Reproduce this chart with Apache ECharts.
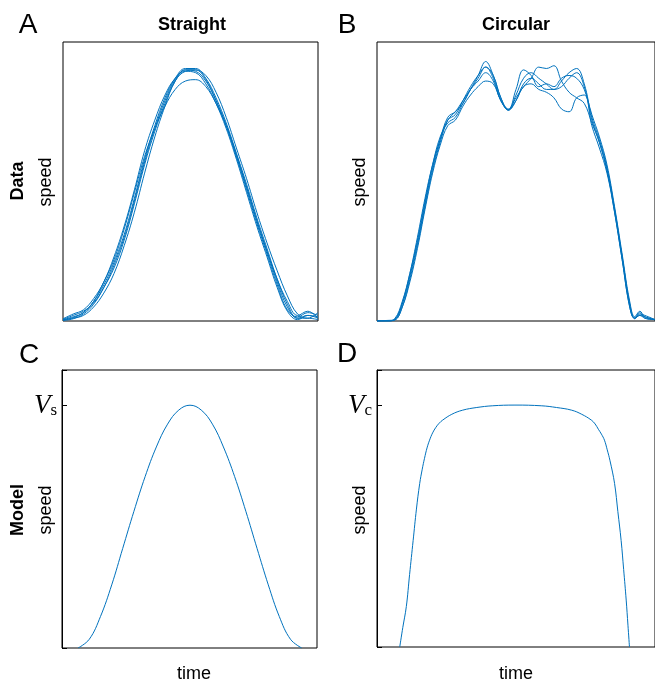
<!DOCTYPE html>
<html>
<head>
<meta charset="utf-8">
<script src="https://cdn.jsdelivr.net/npm/echarts@6/dist/echarts.min.js"></script>
<style>
  html, body { margin: 0; padding: 0; background: #fff; }
  #chart { width: 655px; height: 686px; }
</style>
</head>
<body>
<div id="chart"></div>
<script>
// time samples (arbitrary units) for the straight-line data
const straightTime = [0, 4, 8, 12, 16, 20, 24, 28, 32, 36, 40, 44, 48, 52, 56, 60, 64, 68, 72, 76, 80, 84, 88, 92, 96, 100];
const straightTrials = [
    [0.004, 0.012, 0.03, 0.07, 0.13, 0.21, 0.31, 0.44, 0.58, 0.70, 0.80, 0.87, 0.905, 0.905, 0.87, 0.80, 0.71, 0.60, 0.48, 0.36, 0.25, 0.14, 0.05, 0.01, 0.02, 0.01],
    [0.006, 0.02, 0.035, 0.065, 0.12, 0.19, 0.29, 0.42, 0.56, 0.68, 0.78, 0.86, 0.90, 0.90, 0.865, 0.79, 0.70, 0.59, 0.47, 0.35, 0.24, 0.13, 0.04, 0.015, 0.03, 0.02],
    [0.005, 0.015, 0.03, 0.07, 0.14, 0.22, 0.33, 0.46, 0.59, 0.69, 0.77, 0.83, 0.86, 0.865, 0.84, 0.78, 0.70, 0.60, 0.49, 0.37, 0.26, 0.15, 0.06, 0.01, 0.01, 0.005],
    [0.003, 0.01, 0.02, 0.05, 0.10, 0.17, 0.27, 0.39, 0.53, 0.66, 0.77, 0.86, 0.895, 0.90, 0.88, 0.82, 0.73, 0.62, 0.51, 0.39, 0.28, 0.18, 0.09, 0.025, 0.01, 0.03],
    [0.008, 0.025, 0.04, 0.08, 0.14, 0.23, 0.34, 0.47, 0.61, 0.72, 0.81, 0.87, 0.895, 0.89, 0.85, 0.78, 0.69, 0.58, 0.46, 0.34, 0.23, 0.12, 0.035, 0.005, 0.02, 0.015],
    [0.002, 0.008, 0.025, 0.06, 0.12, 0.20, 0.30, 0.43, 0.57, 0.69, 0.79, 0.865, 0.90, 0.895, 0.86, 0.79, 0.70, 0.59, 0.48, 0.36, 0.25, 0.15, 0.07, 0.02, 0.035, 0.01]
];

// circular data
const circularTime = [0, 4, 7, 10, 13, 16, 19, 22, 25, 28, 31, 34, 37, 40, 43, 46, 49, 52, 55, 58, 61, 64, 67, 70, 73, 76, 79, 82, 85, 88, 91, 94, 97, 100, 102, 104, 106, 110];
const circularTrials = [
    [0, 0, 0.005, 0.06, 0.16, 0.28, 0.42, 0.55, 0.65, 0.73, 0.75, 0.78, 0.83, 0.88, 0.93, 0.88, 0.80, 0.755, 0.79, 0.85, 0.87, 0.85, 0.83, 0.83, 0.86, 0.89, 0.905, 0.85, 0.73, 0.65, 0.55, 0.40, 0.23, 0.06, 0.01, 0.03, 0.01, 0.005],
    [0, 0, 0.003, 0.05, 0.15, 0.27, 0.41, 0.54, 0.64, 0.72, 0.75, 0.79, 0.83, 0.87, 0.91, 0.87, 0.79, 0.757, 0.80, 0.84, 0.87, 0.91, 0.905, 0.915, 0.86, 0.82, 0.80, 0.78, 0.71, 0.64, 0.54, 0.39, 0.22, 0.05, 0.01, 0.02, 0.015, 0.005],
    [0, 0, 0.008, 0.07, 0.17, 0.29, 0.43, 0.56, 0.66, 0.71, 0.73, 0.78, 0.83, 0.86, 0.89, 0.86, 0.79, 0.76, 0.83, 0.90, 0.88, 0.84, 0.85, 0.84, 0.87, 0.88, 0.87, 0.83, 0.74, 0.66, 0.56, 0.41, 0.24, 0.07, 0.015, 0.035, 0.015, 0.005],
    [0, 0.002, 0.004, 0.05, 0.14, 0.26, 0.40, 0.53, 0.63, 0.70, 0.72, 0.77, 0.81, 0.84, 0.86, 0.85, 0.79, 0.757, 0.79, 0.84, 0.85, 0.83, 0.82, 0.80, 0.76, 0.75, 0.80, 0.81, 0.70, 0.62, 0.53, 0.39, 0.22, 0.05, 0.008, 0.025, 0.02, 0.005],
    [0, 0, 0.006, 0.065, 0.17, 0.30, 0.44, 0.56, 0.65, 0.72, 0.74, 0.79, 0.84, 0.88, 0.91, 0.88, 0.80, 0.757, 0.81, 0.87, 0.89, 0.87, 0.85, 0.83, 0.84, 0.87, 0.89, 0.84, 0.72, 0.64, 0.54, 0.40, 0.23, 0.06, 0.01, 0.02, 0.01, 0.005]
];

// model curves (speed relative to V)
const modelStraightTime = [6.3, 10.7, 15.1, 19.5, 23.8, 28.2, 32.6, 37.0, 41.4, 45.8, 50.2, 54.6, 59.0, 63.3, 67.7, 72.1, 76.5, 80.9, 85.2, 89.6, 94.0];
const modelStraightSpeed = [0, 0.036, 0.130, 0.260, 0.410, 0.563, 0.706, 0.828, 0.922, 0.980, 1.0, 0.980, 0.922, 0.828, 0.706, 0.563, 0.410, 0.260, 0.130, 0.036, 0];
const modelCircularTime = [9.0, 10.2, 11.6, 12.9, 14.3, 15.6, 16.9, 17.9, 18.8, 19.8, 20.8, 22.0, 23.3, 24.6, 26, 29.6, 33.9, 39.5, 45.6, 54.6, 65.2, 71, 77, 81, 84.8, 86.3, 87.6, 88.8, 90, 91.1, 92.2, 94, 95.3, 96.6, 97.6, 98.6, 99.3, 99.9];
const modelCircularSpeed = [0, 0.08, 0.167, 0.30, 0.44, 0.57, 0.676, 0.735, 0.78, 0.823, 0.855, 0.885, 0.908, 0.925, 0.938, 0.962, 0.979, 0.99, 0.997, 1.0, 0.997, 0.99, 0.979, 0.962, 0.938, 0.922, 0.90, 0.88, 0.855, 0.815, 0.77, 0.676, 0.56, 0.44, 0.32, 0.194, 0.09, 0];

const lineColor = '#0072BD';
const sans = 'Liberation Sans, Arial, sans-serif';
const serif = 'Liberation Serif, Times New Roman, serif';

let myChart = echarts.init(document.getElementById('chart'), null, {renderer: 'canvas'});

const zip = (xs, ys) => xs.map((x, i) => [x, ys[i]]);

function lineSeries(xs, ys, idx) {
    return {
        type: 'line',
        xAxisIndex: idx,
        yAxisIndex: idx,
        data: zip(xs, ys),
        showSymbol: false,
        smooth: 0.4,
        silent: true,
        lineStyle: {color: lineColor, width: 1},
        itemStyle: {color: lineColor}
    };
}

function plainX(idx, max) {
    return {
        type: 'value', gridIndex: idx, min: 0, max: max,
        axisLine: {show: false}, axisTick: {show: false},
        axisLabel: {show: false}, splitLine: {show: false}
    };
}

function plainY(idx) {
    return {
        type: 'value', gridIndex: idx, min: 0, max: 1,
        axisLine: {show: false}, axisTick: {show: false},
        axisLabel: {show: false}, splitLine: {show: false}
    };
}

function modelY(idx, sub) {
    return {
        type: 'value', gridIndex: idx, min: 0, max: 1.145, interval: 1,
        axisLine: {show: true, lineStyle: {color: '#000', width: 1}},
        axisTick: {show: true, inside: true, length: 5, lineStyle: {color: '#000'}},
        axisLabel: {
            margin: 5,
            formatter: v => v === 1 ? '{v|V}{s|' + sub + '}' : '',
            rich: {
                v: {fontFamily: serif, fontStyle: 'italic', fontSize: 27, color: '#000', verticalAlign: 'bottom', lineHeight: 28},
                s: {fontFamily: serif, fontSize: 17, color: '#000', verticalAlign: 'bottom', lineHeight: 23}
            }
        },
        splitLine: {show: false}
    };
}

const gridBox = {show: true, borderColor: '#000', borderWidth: 1, backgroundColor: 'transparent'};

let series = [];
straightTrials.forEach(t => series.push(lineSeries(straightTime, t, 0)));
circularTrials.forEach(t => series.push(lineSeries(circularTime, t, 1)));
series.push(lineSeries(modelStraightTime, modelStraightSpeed, 2));
series.push(lineSeries(modelCircularTime, modelCircularSpeed, 3));

function txt(x, y, text, size, weight, rotation) {
    return {
        type: 'text', x: x, y: y, rotation: rotation || 0,
        style: {text: text, fontFamily: sans, fontSize: size, fontWeight: weight || 'normal', fill: '#000', align: 'center', verticalAlign: 'middle'}
    };
}

const r90 = Math.PI / 2;

let option = {
    backgroundColor: '#fff',
    animation: false,
    grid: [
        Object.assign({left: 63, top: 42, width: 255, height: 279}, gridBox),
        Object.assign({left: 377, top: 42, width: 281, height: 279}, gridBox),
        Object.assign({left: 62, top: 370, width: 255, height: 278}, gridBox),
        Object.assign({left: 377, top: 370, width: 281, height: 277}, gridBox)
    ],
    xAxis: [plainX(0, 100), plainX(1, 110), plainX(2, 100), plainX(3, 110)],
    yAxis: [plainY(0), plainY(1), modelY(2, 's'), modelY(3, 'c')],
    series: series,
    graphic: [
        txt(28, 25, 'A', 28),
        txt(347, 25, 'B', 28),
        txt(29, 355, 'C', 28),
        txt(347, 354, 'D', 28),
        txt(192, 25, 'Straight', 18, 'bold'),
        txt(516, 25, 'Circular', 18, 'bold'),
        txt(18, 181, 'Data', 18, 'bold', r90),
        txt(46, 182, 'speed', 18, 'normal', r90),
        txt(360, 182, 'speed', 18, 'normal', r90),
        txt(18, 510, 'Model', 18, 'bold', r90),
        txt(46, 510, 'speed', 18, 'normal', r90),
        txt(360, 510, 'speed', 18, 'normal', r90),
        txt(194, 674, 'time', 18),
        txt(516, 674, 'time', 18)
    ]
};

myChart.setOption(option);
</script>
</body>
</html>
